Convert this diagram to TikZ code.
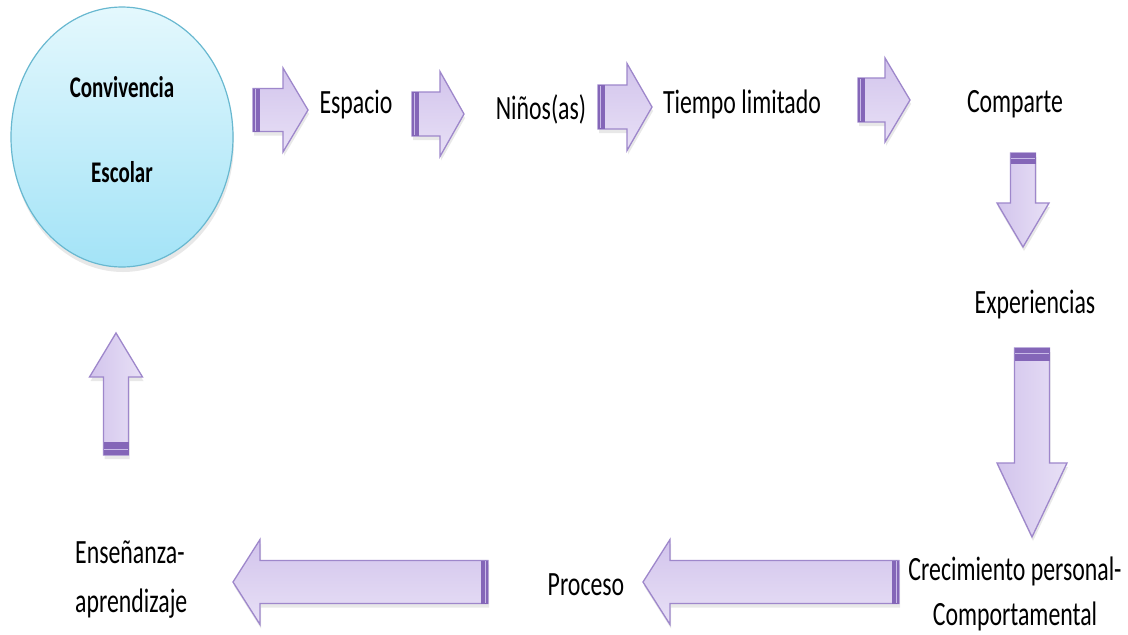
\documentclass[tikz,border=0pt]{standalone}
\usepackage{fontspec}
\setmainfont{Carlito}[FakeStretch=0.7]
\usetikzlibrary{shadows,shapes.geometric}
\definecolor{arrTop}{HTML}{D2C4EC}
\definecolor{arrBot}{HTML}{E8E0F6}
\definecolor{arrLine}{HTML}{9E87CB}
\definecolor{stripeDark}{HTML}{8466B8}
\definecolor{stripeLight}{HTML}{C9BBE8}
\definecolor{circTop}{HTML}{E4F8FD}
\definecolor{circBot}{HTML}{A3E3F7}
\definecolor{circLine}{HTML}{68B8D0}
\tikzset{
  blockarrow/.style={draw=arrLine, line width=1.3pt, line join=miter, top color=arrTop, bottom color=arrBot,
    drop shadow={opacity=0.18, shadow xshift=1pt, shadow yshift=-4pt}},
  vblockarrow/.style={draw=arrLine, line width=1.3pt, line join=miter, left color=arrTop, right color=arrBot,
    drop shadow={opacity=0.18, shadow xshift=1pt, shadow yshift=-4pt}},
  circ/.style={ellipse, draw=circLine, line width=1.2pt, top color=circTop, bottom color=circBot,
    minimum width=222pt, minimum height=260pt, inner sep=0pt,
    drop shadow={opacity=0.18, shadow xshift=1pt, shadow yshift=-5pt}},
  lbl/.style={inner sep=0pt, text=black, font=\fontsize{34}{40}\selectfont},
  blbl/.style={inner sep=0pt, text=black, font=\bfseries\fontsize{30}{36}\selectfont},
}
% horizontal block arrow: tail x, head base x, tip x, center y, shaft half, head half, signed stripe width
\newcommand\HArrow[7]{%
  \path[blockarrow] (#1,{#4-#5}) -- (#2,{#4-#5}) -- (#2,{#4-#6}) -- (#3,#4) -- (#2,{#4+#6}) -- (#2,{#4+#5}) -- (#1,{#4+#5}) -- cycle;
  \fill[stripeDark] (#1,{#4-#5}) rectangle ({#1+#7},{#4+#5});
  \draw[stripeLight, line width=0.9pt] ({#1+0.4*#7},{#4-#5+0.8}) -- ({#1+0.4*#7},{#4+#5-0.8});
}
% vertical block arrow: tail y, head base y, tip y, center x, shaft half, head half, signed stripe width
\newcommand\VArrow[7]{%
  \path[vblockarrow] ({#4-#5},#1) -- ({#4-#5},#2) -- ({#4-#6},#2) -- (#4,#3) -- ({#4+#6},#2) -- ({#4+#5},#2) -- ({#4+#5},#1) -- cycle;
  \fill[stripeDark] ({#4-#5},#1) rectangle ({#4+#5},{#1+#7});
  \draw[stripeLight, line width=0.9pt] ({#4-#5+0.8},{#1+0.45*#7}) -- ({#4+#5-0.8},{#1+0.45*#7});
}
\begin{document}
\begin{tikzpicture}[x=1pt,y=-1pt]
\useasboundingbox[fill=white] (0,0) rectangle (1128,635);

% central circle
\node[circ] (conv) at (122,137) {};
\node[blbl, anchor=base] (convA) at (122,97) {Convivencia};
\node[blbl, anchor=base] (convB) at (122,182) {Escolar};

% labels
\node[lbl, anchor=base] (esp) at (356,113) {Espacio};
\node[lbl, anchor=base] (nin) at (541,119) {Niños(as)};
\node[lbl, anchor=base] (tie) at (742,113) {Tiempo limitado};
\node[lbl, anchor=base] (com) at (1015,112) {Comparte};
\node[lbl, anchor=base] (exp) at (1035,313) {Experiencias};
\node[lbl, anchor=base, align=center, font=\fontsize{34}{45}\selectfont] (cre) at (1015,625) {Crecimiento personal-\\Comportamental};
\node[lbl, anchor=base] (pro) at (586,595) {Proceso};
\node[lbl, anchor=base west, align=left, font=\fontsize{34}{49}\selectfont] (ens) at (75,612) {Enseñanza-\\aprendizaje};

% arrows
\HArrow{253}{283}{308}{110}{21.5}{42}{7}
\HArrow{412}{440}{464}{114}{22}{42.5}{7}
\HArrow{598}{627}{652}{107}{22}{43.5}{7}
\HArrow{858}{885}{910}{100}{22}{42}{7}
\VArrow{153}{203}{247}{1023}{12.5}{26}{11}
\VArrow{348}{463}{537}{1032}{17.5}{35}{13}
\HArrow{899}{670}{643}{582}{21.5}{42.5}{-7}
\HArrow{488}{260}{233}{582}{21.5}{42.5}{-7}
\VArrow{455}{377}{333}{116}{12.5}{26.5}{-13}
\end{tikzpicture}
\end{document}
